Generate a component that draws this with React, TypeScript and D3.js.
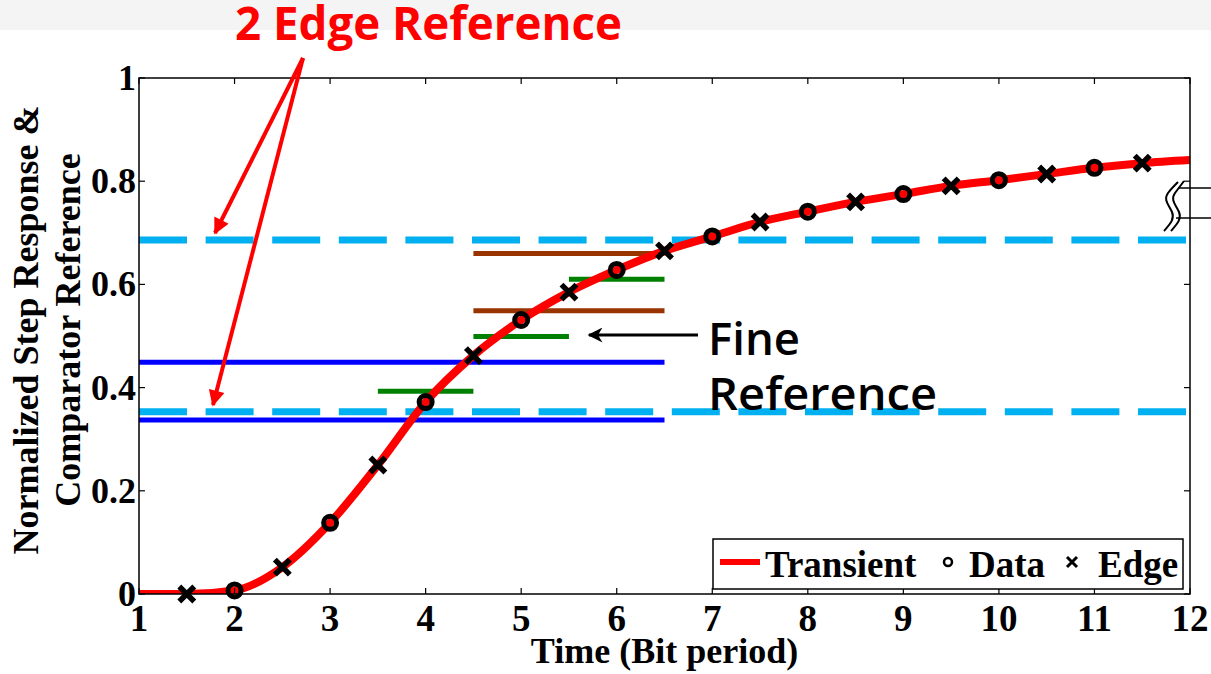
import * as d3 from 'd3';

// Transient step response, read at data (integer) and edge (half) instants
const timeSamples = [1, 1.5, 2, 2.5, 3, 3.5, 4, 4.5, 5, 5.5, 6, 6.5, 7, 7.5, 8, 8.5, 9, 9.5, 10, 10.5, 11, 11.5, 12];
const transientValues = [0, 0, 0.007, 0.052, 0.138, 0.25, 0.372, 0.462, 0.531, 0.585, 0.628, 0.665, 0.693, 0.721, 0.741, 0.76, 0.775, 0.791, 0.802, 0.814, 0.826, 0.835, 0.841];

const dataTimes = [2, 3, 4, 5, 6, 7, 8, 9, 10, 11];
const edgeTimes = [1.5, 2.5, 3.5, 4.5, 5.5, 6.5, 7.5, 8.5, 9.5, 10.5, 11.5];

// comparator references: [value, from, to]
const edgeRefs = [0.686, 0.353];
const coarseRefs = [[0.449, 1, 6.5], [0.337, 1, 6.5]];
const brownRefs = [[0.66, 4.5, 6.5], [0.549, 4.5, 6.5]];
const fineRefs = [[0.393, 3.5, 4.5], [0.499, 4.5, 5.5], [0.61, 5.5, 6.5]];

const xTicks = [1, 2, 3, 4, 5, 6, 7, 8, 9, 10, 11, 12];
const yTicks = [0, 0.2, 0.4, 0.6, 0.8, 1];

const W = 1211;
const H = 674;
const serif = '"Liberation Serif", "Times New Roman", serif';
const sans = '"Open Sans", "Noto Sans", sans-serif';

export default function App() {
  const x = d3.scaleLinear().domain([1, 12]).range([139, 1190]);
  const y = d3.scaleLinear().domain([0, 1]).range([594, 78]);
  const [x0, x1] = x.range();
  const [yb, yt] = y.range();

  const valueAt = (t: number) => transientValues[timeSamples.indexOf(t)];

  const line = d3.line<number>()
    .x((_, i) => x(timeSamples[i]))
    .y(d => y(d))
    .curve(d3.curveMonotoneX);

  const tickLen = 6;

  return (
    <svg width={W} height={H} style={{ position: 'fixed', left: 0, top: 0, background: '#fff' }}>
      <defs>
        <marker id="redHead" viewBox="0 0 10 10" refX="9" refY="5" markerWidth="4.5" markerHeight="4" orient="auto" markerUnits="strokeWidth">
          <path d="M0,0 L10,5 L0,10 z" fill="#ff0000" />
        </marker>
        <marker id="blackHead" viewBox="0 0 10 10" refX="9" refY="5" markerWidth="6" markerHeight="5" orient="auto" markerUnits="strokeWidth">
          <path d="M0,0 L10,5 L0,10 L3,5 z" fill="#000" />
        </marker>
        <clipPath id="plotClip">
          <rect x={x0} y={yt} width={x1 - x0} height={yb - yt} />
        </clipPath>
      </defs>

      <rect x={0} y={0} width={W} height={30} fill="#f4f4f4" />

      {/* edge reference dashed lines */}
      {edgeRefs.map((v, i) => (
        <line key={'e' + i} x1={x0} x2={x1} y1={y(v)} y2={y(v)}
          stroke="#00b0f0" strokeWidth={7} strokeDasharray="48,18.6" />
      ))}
      {coarseRefs.map(([v, a, b], i) => (
        <line key={'c' + i} x1={x(a)} x2={x(b)} y1={y(v)} y2={y(v)} stroke="#0000ff" strokeWidth={5} />
      ))}
      {brownRefs.map(([v, a, b], i) => (
        <line key={'b' + i} x1={x(a)} x2={x(b)} y1={y(v)} y2={y(v)} stroke="#993300" strokeWidth={5} />
      ))}
      {fineRefs.map(([v, a, b], i) => (
        <line key={'f' + i} x1={x(a)} x2={x(b)} y1={y(v)} y2={y(v)} stroke="#008000" strokeWidth={5} />
      ))}

      <path d={line(transientValues) || ''} fill="none" stroke="#ff0000" strokeWidth={8} clipPath="url(#plotClip)" />

      {dataTimes.map(t => (
        <circle key={'d' + t} cx={x(t)} cy={y(valueAt(t))} r={6.5} fill="none" stroke="#000" strokeWidth={5} />
      ))}
      {edgeTimes.map(t => {
        const cx = x(t);
        const cy = y(valueAt(t));
        const s = 7.5;
        return (
          <path key={'x' + t} d={`M${cx - s},${cy - s}L${cx + s},${cy + s}M${cx - s},${cy + s}L${cx + s},${cy - s}`}
            stroke="#000" strokeWidth={5.5} />
        );
      })}

      {/* axes box and ticks */}
      <rect x={x0} y={yt} width={x1 - x0} height={yb - yt} fill="none" stroke="#000" strokeWidth={1.5} />
      {xTicks.map(t => (
        <g key={'xt' + t}>
          <line x1={x(t)} x2={x(t)} y1={yb} y2={yb - tickLen} stroke="#000" strokeWidth={1.2} />
          <line x1={x(t)} x2={x(t)} y1={yt} y2={yt + tickLen} stroke="#000" strokeWidth={1.2} />
          <text x={x(t)} y={631} textAnchor="middle" fontFamily={serif} fontWeight="bold" fontSize={37}>{t}</text>
        </g>
      ))}
      {yTicks.map(t => (
        <g key={'yt' + t}>
          <line x1={x0} x2={x0 + tickLen} y1={y(t)} y2={y(t)} stroke="#000" strokeWidth={1.2} />
          <line x1={x1} x2={x1 - tickLen} y1={y(t)} y2={y(t)} stroke="#000" strokeWidth={1.2} />
          <text x={136} y={y(t) + 12} textAnchor="end" fontFamily={serif} fontWeight="bold" fontSize={36}>{t === 0 || t === 1 ? t : d3.format('.1f')(t)}</text>
        </g>
      ))}

      <text x={(x0 + x1) / 2} y={663} textAnchor="middle" fontFamily={serif} fontWeight="bold" fontSize={36}>Time (Bit period)</text>
      <g transform="translate(0,330) rotate(-90)">
        <text x={0} y={38} textAnchor="middle" fontFamily={serif} fontWeight="bold" fontSize={36}>Normalized Step Response &amp;</text>
        <text x={0} y={80} textAnchor="middle" fontFamily={serif} fontWeight="bold" fontSize={36}>Comparator Reference</text>
      </g>

      {/* legend */}
      <rect x={713} y={539} width={470} height={50} fill="#fff" stroke="#000" strokeWidth={1.5} />
      <line x1={720} x2={760} y1={562} y2={562} stroke="#ff0000" strokeWidth={6} />
      <text x={765} y={577} fontFamily={serif} fontWeight="bold" fontSize={37}>Transient</text>
      <circle cx={948} cy={562} r={4} fill="none" stroke="#000" strokeWidth={2.5} />
      <text x={969} y={577} fontFamily={serif} fontWeight="bold" fontSize={37}>Data</text>
      <path d="M1067,557L1077,567M1067,567L1077,557" stroke="#000" strokeWidth={3} />
      <text x={1098} y={577} fontFamily={serif} fontWeight="bold" fontSize={37}>Edge</text>

      {/* axis break symbol on the right */}
      <path d="M1164,231 C1170,224 1175,219 1172,212 C1169,205 1163,200 1168,193 C1171,189 1175,185 1178,182" fill="none" stroke="#000" strokeWidth={2} />
      <path d="M1171,231 C1177,224 1182,219 1179,212 C1176,205 1170,200 1175,193 C1178,189 1181,185 1184,181" fill="none" stroke="#000" strokeWidth={2} />
      <line x1={1178} x2={W} y1={188} y2={188} stroke="#000" strokeWidth={1.5} />
      <line x1={1176} x2={W} y1={218} y2={218} stroke="#000" strokeWidth={1.5} />

      {/* annotations */}
      <text x={235} y={40} fill="#ff0000" fontFamily={sans} fontWeight={700} fontSize={47}
        textLength={387} lengthAdjust="spacingAndGlyphs">2 Edge Reference</text>
      <line x1={303} y1={58} x2={215} y2={233} stroke="#ff0000" strokeWidth={4} markerEnd="url(#redHead)" />
      <line x1={303} y1={58} x2={213} y2={405} stroke="#ff0000" strokeWidth={4} markerEnd="url(#redHead)" />

      <line x1={698} y1={335} x2={589} y2={335} stroke="#000" strokeWidth={3} markerEnd="url(#blackHead)" />
      <text x={708} y={355} fontFamily={sans} fontWeight={600} fontSize={45} textLength={92} lengthAdjust="spacingAndGlyphs">Fine</text>
      <text x={708} y={410} fontFamily={sans} fontWeight={600} fontSize={45} textLength={229} lengthAdjust="spacingAndGlyphs">Reference</text>
    </svg>
  );
}
